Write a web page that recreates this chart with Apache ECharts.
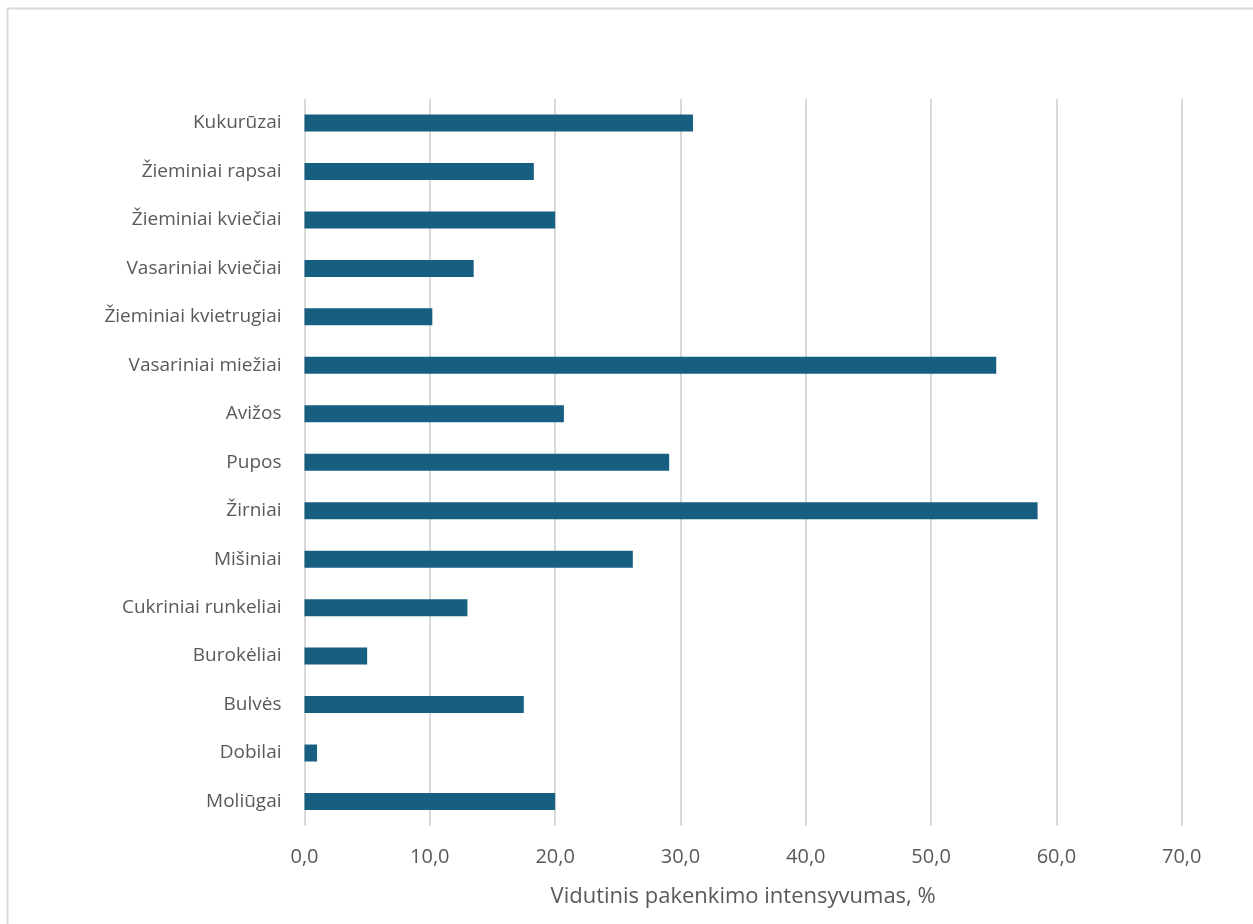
<!DOCTYPE html>
<html>
<head>
<meta charset="utf-8">
<script src="https://cdn.jsdelivr.net/npm/echarts@6/dist/echarts.min.js"></script>
<style>
html,body{margin:0;padding:0;background:#fff;}
#c{width:1253px;height:924px;}
</style>
</head>
<body>
<div id="c"></div>
<script>
const categories = ["Kukurūzai","Žieminiai rapsai","Žieminiai kviečiai","Vasariniai kviečiai","Žieminiai kvietrugiai","Vasariniai miežiai","Avižos","Pupos","Žirniai","Mišiniai","Cukriniai runkeliai","Burokėliai","Bulvės","Dobilai","Moliūgai"];
const values = [31.0,18.3,20.0,13.5,10.2,55.2,20.7,29.1,58.5,26.2,13.0,5.0,17.5,1.0,20.0];
const axisName = "Vidutinis pakenkimo intensyvumas, %";

const chart = echarts.init(document.getElementById('c'), null, {renderer:'canvas'});
const font = "'Open Sans', 'Noto Sans', sans-serif";
chart.setOption({
  animation:false,
  backgroundColor:'#fff',
  textStyle:{fontFamily:font},
  graphic:[{type:'rect',shape:{x:7.5,y:8.5,width:1270,height:940},style:{fill:'none',stroke:'#d9d9d9',lineWidth:2},z:-1}],
  grid:{left:304.5,right:71.3,top:98.8,bottom:98.3,containLabel:false},
  xAxis:{
    type:'value',min:0,max:70,interval:10,
    axisLine:{show:false},axisTick:{show:false},
    splitLine:{show:true,lineStyle:{color:'#d9d9d9',width:2}},
    axisLabel:{color:'#595959',fontSize:20,margin:22,fontFamily:font,formatter:v=>v.toFixed(1).replace('.',',')},
    name:axisName,nameLocation:'middle',nameGap:60,
    nameTextStyle:{color:'#595959',fontSize:22,fontFamily:font}
  },
  yAxis:{
    type:'category',data:categories,inverse:true,
    axisLine:{show:false},axisTick:{show:false},
    axisLabel:{color:'#595959',fontSize:19,margin:23,fontFamily:font}
  },
  series:[{type:'bar',data:values,barWidth:17,itemStyle:{color:'#175F80'}}]
});
</script>
</body>
</html>
